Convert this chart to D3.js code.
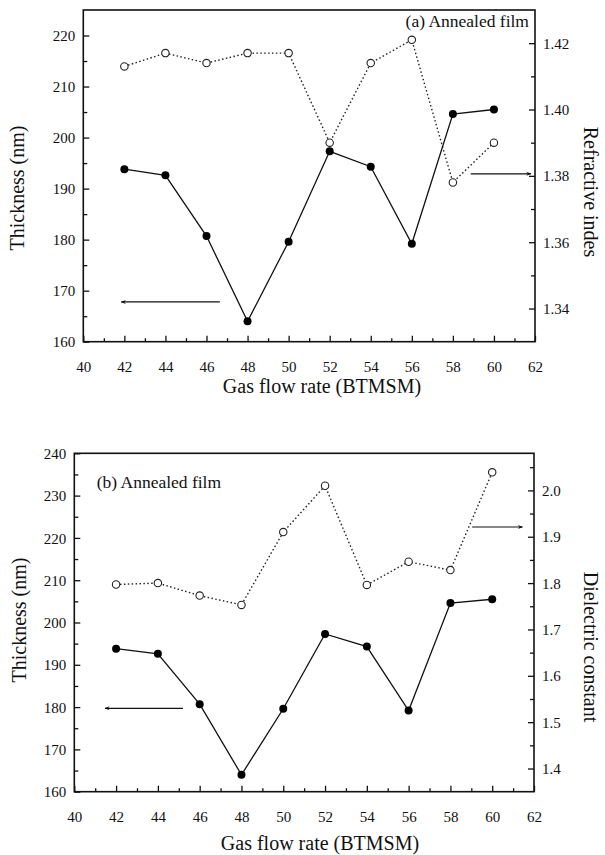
<!DOCTYPE html>
<html>
<head>
<meta charset="utf-8">
<script src="https://cdn.jsdelivr.net/npm/d3@7/dist/d3.min.js"></script>
<style>
  html, body { margin: 0; padding: 0; background: #fff; }
  svg { display: block; }
  text { font-family: "Liberation Serif", "Times New Roman", serif; fill: #111; }
</style>
</head>
<body>
<svg id="chart" width="605" height="855"></svg>
<script>
// ---------- data ----------
const flowRates = [42, 44, 46, 48, 50, 52, 54, 56, 58, 60];
const thicknessA = [193.8, 192.6, 180.7, 164.0, 179.6, 197.3, 194.3, 179.2, 204.6, 205.5];
const refractiveIndex = [1.413, 1.417, 1.414, 1.417, 1.417, 1.390, 1.414, 1.421, 1.378, 1.390];
const thicknessB = [193.8, 192.6, 180.7, 164.0, 179.6, 197.3, 194.3, 179.2, 204.6, 205.5];
const dielectricConstant = [1.797, 1.800, 1.773, 1.753, 1.910, 2.010, 1.796, 1.846, 1.828, 2.039];

const xTicks = [40, 42, 44, 46, 48, 50, 52, 54, 56, 58, 60, 62];
const xMinorTicks = [41, 43, 45, 47, 49, 51, 53, 55, 57, 59, 61];
const thickTicksA = [160, 170, 180, 190, 200, 210, 220];
const thickMinorA = [165, 175, 185, 195, 205, 215];
const riTicks = [1.34, 1.36, 1.38, 1.40, 1.42];
const riMinor = [1.35, 1.37, 1.39, 1.41];
const thickTicksB = [160, 170, 180, 190, 200, 210, 220, 230, 240];
const thickMinorB = [165, 175, 185, 195, 205, 215, 225, 235];
const dcTicks = [1.4, 1.5, 1.6, 1.7, 1.8, 1.9, 2.0];
const dcMinor = [1.45, 1.55, 1.65, 1.75, 1.85, 1.95, 2.05];

const xTitle = "Gas flow rate (BTMSM)";
const leftTitle = "Thickness (nm)";

const svg = d3.select("#chart");
const defs = svg.append("defs");
defs.append("marker")
  .attr("id", "ah").attr("viewBox", "0 0 10 10")
  .attr("refX", 9).attr("refY", 5)
  .attr("markerWidth", 6).attr("markerHeight", 5)
  .attr("markerUnits", "userSpaceOnUse")
  .attr("orient", "auto")
  .append("path").attr("d", "M0,1 L10,5 L0,9 L3,5 Z").attr("fill", "#111");

function panel(cfg) {
  const g = svg.append("g");
  const x = d3.scaleLinear().domain([40, 62]).range([cfg.left, cfg.right]);
  const yL = d3.scaleLinear().domain(cfg.yLDomain).range([cfg.bottom, cfg.top]);
  const yR = d3.scaleLinear().domain(cfg.yRDomain).range([cfg.bottom, cfg.top]);
  const fs = 15;
  const ff = '"Liberation Serif", "Times New Roman", serif';

  // bottom axis (ticks inward)
  const xAx = g.append("g").attr("transform", `translate(0,${cfg.bottom})`)
    .call(d3.axisBottom(x).tickValues(xTicks).tickSizeInner(-6).tickSizeOuter(0).tickPadding(0).tickFormat(d3.format("d")));
  xAx.selectAll("text").attr("y", 20).attr("font-size", fs).attr("font-family", ff).attr("fill", "#111");
  g.append("g").attr("transform", `translate(0,${cfg.bottom})`)
    .call(d3.axisBottom(x).tickValues(xMinorTicks).tickSizeInner(-3.5).tickSizeOuter(0).tickFormat(""));

  // left axis
  const lAx = g.append("g").attr("transform", `translate(${cfg.left},0)`)
    .call(d3.axisLeft(yL).tickValues(cfg.lTicks).tickSizeInner(-6).tickSizeOuter(0).tickPadding(0).tickFormat(d3.format("d")));
  lAx.selectAll("text").attr("x", -8).attr("dy", "0.34em").attr("font-size", fs).attr("font-family", ff).attr("fill", "#111");
  g.append("g").attr("transform", `translate(${cfg.left},0)`)
    .call(d3.axisLeft(yL).tickValues(cfg.lMinor).tickSizeInner(-4).tickSizeOuter(0).tickFormat(""));

  // right axis
  const rAx = g.append("g").attr("transform", `translate(${cfg.right},0)`)
    .call(d3.axisRight(yR).tickValues(cfg.rTicks).tickSizeInner(-6).tickSizeOuter(0).tickPadding(0).tickFormat(d3.format(cfg.rFmt)));
  rAx.selectAll("text").attr("x", 8).attr("dy", "0.34em").attr("font-size", fs).attr("font-family", ff).attr("fill", "#111");
  g.append("g").attr("transform", `translate(${cfg.right},0)`)
    .call(d3.axisRight(yR).tickValues(cfg.rMinor).tickSizeInner(-4).tickSizeOuter(0).tickFormat(""));

  g.selectAll(".domain").remove();
  g.selectAll(".tick line").attr("stroke", "#111").attr("stroke-width", 1.3);

  // frame
  g.append("rect").attr("x", cfg.left).attr("y", cfg.top)
    .attr("width", cfg.right - cfg.left).attr("height", cfg.bottom - cfg.top)
    .attr("fill", "none").attr("stroke", "#111").attr("stroke-width", 1.6);

  // dotted open-circle series (right axis)
  const lineR = d3.line().x((d, i) => x(flowRates[i])).y(d => yR(d));
  g.append("path").attr("d", lineR(cfg.rValues)).attr("fill", "none")
    .attr("stroke", "#222").attr("stroke-width", 1.4).attr("stroke-dasharray", "1.5,2.4");
  g.selectAll(".oc").data(cfg.rValues).enter().append("circle")
    .attr("cx", (d, i) => x(flowRates[i])).attr("cy", d => yR(d)).attr("r", 3.7)
    .attr("fill", "#fff").attr("stroke", "#222").attr("stroke-width", 1.1);

  // solid filled series (left axis)
  const lineL = d3.line().x((d, i) => x(flowRates[i])).y(d => yL(d));
  g.append("path").attr("d", lineL(cfg.lValues)).attr("fill", "none")
    .attr("stroke", "#111").attr("stroke-width", 1.3);
  g.selectAll(".fc").data(cfg.lValues).enter().append("circle")
    .attr("cx", (d, i) => x(flowRates[i])).attr("cy", d => yL(d)).attr("r", 4)
    .attr("fill", "#000");

  // arrows
  g.append("line").attr("x1", x(cfg.lArrow[0])).attr("x2", x(cfg.lArrow[1]))
    .attr("y1", yL(cfg.lArrow[2])).attr("y2", yL(cfg.lArrow[2]))
    .attr("stroke", "#111").attr("stroke-width", 1.2).attr("marker-end", "url(#ah)");
  g.append("line").attr("x1", x(cfg.rArrow[0])).attr("x2", x(cfg.rArrow[1]))
    .attr("y1", yR(cfg.rArrow[2])).attr("y2", yR(cfg.rArrow[2]))
    .attr("stroke", "#111").attr("stroke-width", 1.2).attr("marker-end", "url(#ah)");

  // panel label
  g.append("text").attr("x", cfg.labelX).attr("y", cfg.labelY)
    .attr("text-anchor", cfg.labelAnchor).attr("font-size", 17.5).text(cfg.label);

  // axis titles
  g.append("text").attr("x", cfg.xTitleX).attr("y", cfg.xTitleY)
    .attr("text-anchor", "middle").attr("font-size", 20).text(xTitle);
  g.append("text").attr("transform", `translate(${cfg.lTitleX},${cfg.lTitleY}) rotate(-90)`)
    .attr("text-anchor", "middle").attr("dominant-baseline", "central").attr("font-size", 20).text(leftTitle);
  g.append("text").attr("transform", `translate(${cfg.rTitleX},${cfg.rTitleY}) rotate(90)`)
    .attr("text-anchor", "middle").attr("dominant-baseline", "central").attr("font-size", 20).text(cfg.rTitle);
}

panel({
  left: 83.3, right: 535, top: 10, bottom: 341.7,
  yLDomain: [160, 225], yRDomain: [1.33, 1.43],
  lTicks: thickTicksA, lMinor: thickMinorA,
  rTicks: riTicks, rMinor: riMinor, rFmt: ".2f",
  lValues: thicknessA, rValues: refractiveIndex,
  lArrow: [46.65, 41.85, 167.8], rArrow: [58.87, 61.8, 1.3806],
  label: "(a) Annealed film", labelX: 529, labelY: 27, labelAnchor: "end",
  xTitleX: 322, xTitleY: 393,
  lTitleX: 17, lTitleY: 188,
  rTitleX: 591, rTitleY: 192, rTitle: "Refractive indes"
});

panel({
  left: 74.3, right: 534, top: 453.3, bottom: 791.7,
  yLDomain: [160, 240], yRDomain: [1.35, 2.08],
  lTicks: thickTicksB, lMinor: thickMinorB,
  rTicks: dcTicks, rMinor: dcMinor, rFmt: ".1f",
  lValues: thicknessB, rValues: dielectricConstant,
  lArrow: [45.2, 41.47, 179.7], rArrow: [59.04, 61.45, 1.921],
  label: "(b) Annealed film", labelX: 96.7, labelY: 488, labelAnchor: "start",
  xTitleX: 320, xTitleY: 850,
  lTitleX: 19, lTitleY: 620,
  rTitleX: 591, rTitleY: 647, rTitle: "Dielectric constant"
});
</script>
</body>
</html>
